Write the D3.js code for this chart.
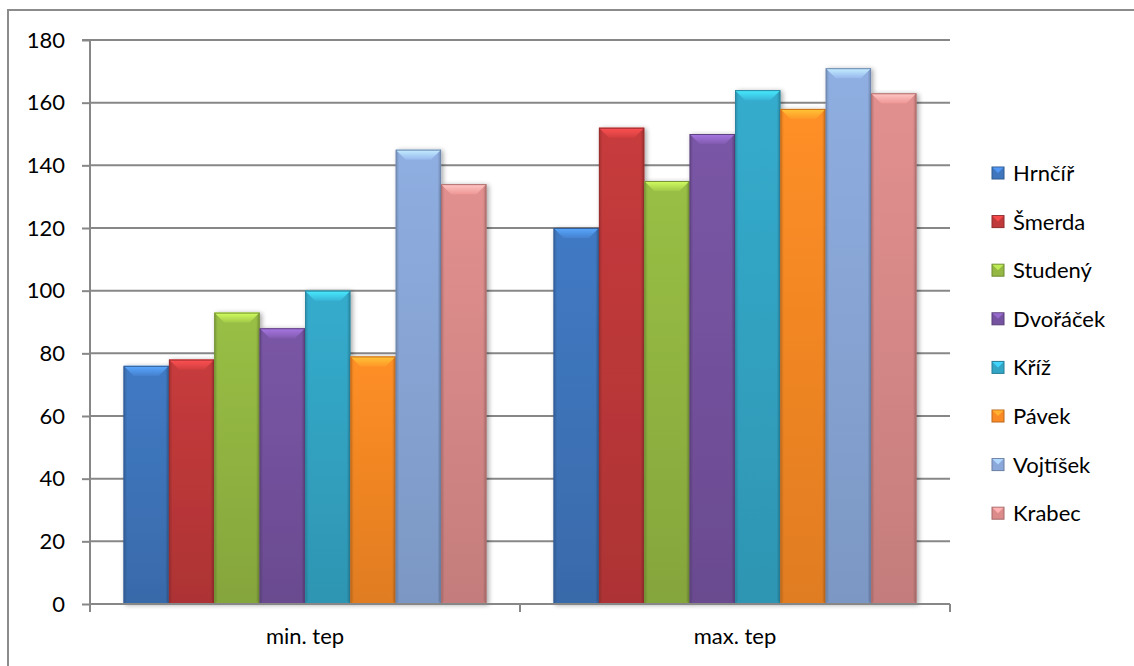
<!DOCTYPE html>
<html>
<head>
<meta charset="utf-8">
<script src="https://cdn.jsdelivr.net/npm/d3@7"></script>
<style>
  html, body { margin: 0; padding: 0; background: #fff; }
  svg { display: block; font-family: Lato, "Open Sans", sans-serif; }
</style>
</head>
<body>
<svg id="chart" width="1134" height="666"></svg>
<script>
// Categories on the x axis and one series per person
const categories = ["min. tep", "max. tep"];
const seriesNames = ["Hrnčíř", "Šmerda", "Studený", "Dvořáček", "Kříž", "Pávek", "Vojtíšek", "Krabec"];
const minTep = [76, 78, 93, 88, 100, 79, 145, 134];
const maxTep = [120, 152, 135, 150, 164, 158, 171, 163];
const seriesColors = ["#3f76bd", "#c0393a", "#94b843", "#7653a0", "#33a6c6", "#f98a25", "#8aa8d9", "#da8b8a"];
const yTicks = [0, 20, 40, 60, 80, 100, 120, 140, 160, 180];

const seriesValues = seriesNames.map((n, i) => [minTep[i], maxTep[i]]);

const svg = d3.select("#chart");
const plot = { left: 90, right: 950, top: 40, bottom: 604 };
const FONT = 22;

// Outer chart frame
svg.append("rect")
  .attr("x", 8).attr("y", 10)
  .attr("width", 1140).attr("height", 700)
  .attr("fill", "#fff").attr("stroke", "#8c8c8c").attr("stroke-width", 2);

const x0 = d3.scaleBand().domain(categories).range([plot.left, plot.right]).paddingInner(0).paddingOuter(0);
const x1 = d3.scaleBand().domain(seriesNames).range([0, x0.bandwidth()]).paddingOuter(0.74).paddingInner(0);
const y = d3.scaleLinear().domain([0, 180]).range([plot.bottom, plot.top]);

const defs = svg.append("defs");
const shadow = defs.append("filter").attr("id", "shadow").attr("x", "-20%").attr("y", "-10%").attr("width", "140%").attr("height", "120%");
shadow.append("feGaussianBlur").attr("in", "SourceAlpha").attr("stdDeviation", 2.5).attr("result", "b");
shadow.append("feOffset").attr("dx", 2).attr("dy", 1).attr("result", "o");
shadow.append("feComponentTransfer").append("feFuncA").attr("type", "linear").attr("slope", 0.35);
const merge = shadow.append("feMerge");
merge.append("feMergeNode");
merge.append("feMergeNode").attr("in", "SourceGraphic");

seriesColors.forEach((c, i) => {
  const g = defs.append("linearGradient").attr("id", "grad" + i).attr("x1", 0).attr("x2", 0).attr("y1", 0).attr("y2", 1);
  g.append("stop").attr("offset", "0%").attr("stop-color", d3.color(c).brighter(0.1));
  g.append("stop").attr("offset", "100%").attr("stop-color", d3.color(c).darker(0.3));
  const h = defs.append("linearGradient").attr("id", "side" + i).attr("x1", 0).attr("x2", 1).attr("y1", 0).attr("y2", 0);
  h.append("stop").attr("offset", "0%").attr("stop-color", "#000").attr("stop-opacity", 0.18);
  h.append("stop").attr("offset", "8%").attr("stop-color", "#000").attr("stop-opacity", 0);
  h.append("stop").attr("offset", "92%").attr("stop-color", "#000").attr("stop-opacity", 0);
  h.append("stop").attr("offset", "100%").attr("stop-color", "#000").attr("stop-opacity", 0.22);
  const b = defs.append("linearGradient").attr("id", "bev" + i).attr("x1", 0).attr("x2", 0).attr("y1", 0).attr("y2", 1);
  b.append("stop").attr("offset", "0%").attr("stop-color", d3.color(c).brighter(1.0));
  b.append("stop").attr("offset", "100%").attr("stop-color", d3.color(c).brighter(0.25));
});

// Gridlines and y axis
const yAxis = d3.axisLeft(y).tickValues(yTicks).tickSize(8).tickPadding(17);
const grid = svg.append("g");
grid.selectAll("line").data(yTicks.filter(t => t > 0)).join("line")
  .attr("x1", plot.left).attr("x2", plot.right)
  .attr("y1", d => y(d)).attr("y2", d => y(d))
  .attr("stroke", "#878787").attr("stroke-width", 2);

const gy = svg.append("g").attr("transform", `translate(${plot.left},0)`).call(yAxis);
gy.select(".domain").attr("stroke", "#878787").attr("stroke-width", 2).attr("d", `M-8,${y(180)}H0V${plot.bottom}`);
gy.selectAll(".tick line").attr("stroke", "#878787").attr("stroke-width", 2);
gy.selectAll(".tick text").attr("font-size", FONT).attr("fill", "#000").attr("font-family", "Lato, 'Open Sans', sans-serif");

// Bars
const groups = svg.append("g").selectAll("g").data(categories).join("g")
  .attr("transform", d => `translate(${x0(d)},0)`);

groups.each(function(cat, ci) {
  const g = d3.select(this);
  seriesNames.forEach((name, si) => {
    const v = seriesValues[si][ci];
    const bx = x1(name), bw = x1.bandwidth();
    const top = y(v), bot = y(0);
    const c = seriesColors[si];
    const bar = g.append("g").attr("filter", "url(#shadow)");
    bar.append("rect").attr("x", bx).attr("y", top).attr("width", bw).attr("height", bot - top)
      .attr("fill", `url(#grad${si})`);
    bar.append("rect").attr("x", bx).attr("y", top).attr("width", bw).attr("height", bot - top)
      .attr("fill", `url(#side${si})`);
    const bev = 10;
    // top bevel
    bar.append("path")
      .attr("d", `M${bx},${top}H${bx + bw}L${bx + bw - bev},${top + bev}H${bx + bev}Z`)
      .attr("fill", `url(#bev${si})`);
    // bottom bevel
    bar.append("path")
      .attr("d", `M${bx},${bot}H${bx + bw}L${bx + bw - bev},${bot - bev}H${bx + bev}Z`)
      .attr("fill", d3.color(c).darker(0.3));
    bar.append("rect").attr("x", bx + 0.5).attr("y", top + 0.5).attr("width", bw - 1).attr("height", bot - top - 1)
      .attr("fill", "none").attr("stroke", d3.color(c).darker(0.6)).attr("stroke-width", 1);
  });
});

// x axis
const xAxis = d3.axisBottom(x0).tickSize(0).tickPadding(24);
const gx = svg.append("g").attr("transform", `translate(0,${plot.bottom})`).call(xAxis);
gx.select(".domain").remove();
gx.selectAll(".tick text").attr("font-size", FONT).attr("fill", "#000").attr("font-family", "Lato, 'Open Sans', sans-serif");
svg.append("line").attr("x1", plot.left).attr("x2", plot.right).attr("y1", plot.bottom).attr("y2", plot.bottom)
  .attr("stroke", "#878787").attr("stroke-width", 2);
svg.append("g").selectAll("line").data([plot.left, x0(categories[1]), plot.right]).join("line")
  .attr("x1", d => d).attr("x2", d => d).attr("y1", plot.bottom).attr("y2", plot.bottom + 8)
  .attr("stroke", "#878787").attr("stroke-width", 2);

// Legend
const legend = svg.append("g").selectAll("g").data(seriesNames).join("g")
  .attr("transform", (d, i) => `translate(992,${173 + i * 48.6})`);
legend.append("rect").attr("x", 0).attr("y", -6).attr("width", 12).attr("height", 12)
  .attr("fill", (d, i) => seriesColors[i]).attr("stroke", (d, i) => d3.color(seriesColors[i]).darker(0.8)).attr("stroke-width", 1);
legend.append("path").attr("d", "M0.5,-5.5H11.5L6,0Z").attr("fill", (d, i) => d3.color(seriesColors[i]).brighter(0.7));
legend.append("text").attr("x", 21).attr("y", 0).attr("dy", "0.36em")
  .attr("font-size", FONT).attr("fill", "#000").text(d => d);
</script>
</body>
</html>
